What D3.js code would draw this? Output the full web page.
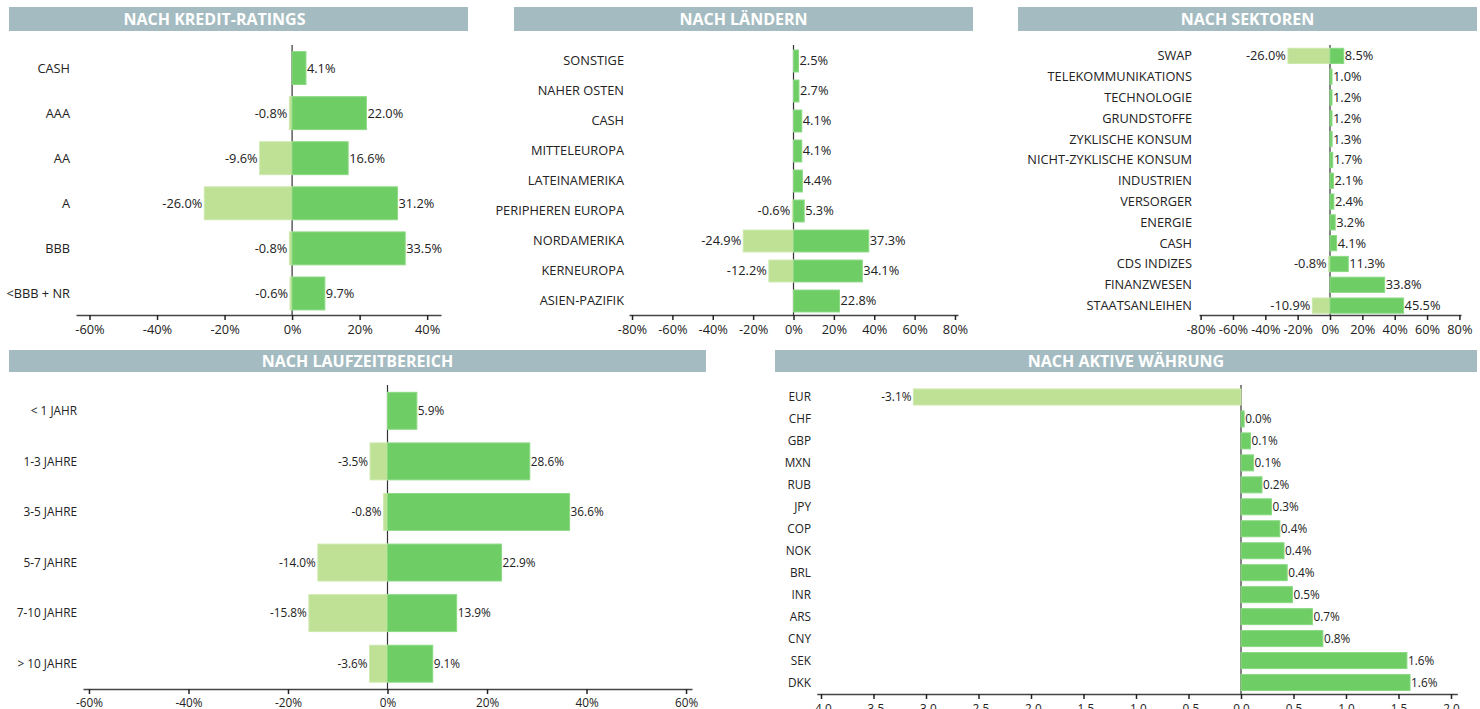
<!DOCTYPE html>
<html><head><meta charset="utf-8">
<script src="https://cdn.jsdelivr.net/npm/d3@7"></script>
<style>
body{margin:0;background:#fff;}
svg{display:block;font-family:"Open Sans",sans-serif;}
</style></head>
<body><svg id="c" width="1480" height="709"></svg>
<script>
// ---------- DATA ----------
const kreditCats = ["CASH","AAA","AA","A","BBB","<BBB + NR"];
const kreditNeg  = [null,-0.8,-9.6,-26.0,-0.8,-0.6];
const kreditPos  = [4.1,22.0,16.6,31.2,33.5,9.7];
const kreditTicks = [-60,-40,-20,0,20,40];

const laenderCats = ["SONSTIGE","NAHER OSTEN","CASH","MITTELEUROPA","LATEINAMERIKA","PERIPHEREN EUROPA","NORDAMERIKA","KERNEUROPA","ASIEN-PAZIFIK"];
const laenderNeg  = [null,null,null,null,null,-0.6,-24.9,-12.2,null];
const laenderPos  = [2.5,2.7,4.1,4.1,4.4,5.3,37.3,34.1,22.8];
const laenderTicks = [-80,-60,-40,-20,0,20,40,60,80];

const sektorCats = ["SWAP","TELEKOMMUNIKATIONS","TECHNOLOGIE","GRUNDSTOFFE","ZYKLISCHE KONSUM","NICHT-ZYKLISCHE KONSUM","INDUSTRIEN","VERSORGER","ENERGIE","CASH","CDS INDIZES","FINANZWESEN","STAATSANLEIHEN"];
const sektorNeg  = [-26.0,null,null,null,null,null,null,null,null,null,-0.8,null,-10.9];
const sektorPos  = [8.5,1.0,1.2,1.2,1.3,1.7,2.1,2.4,3.2,4.1,11.3,33.8,45.5];
const sektorTicks = [-80,-60,-40,-20,0,20,40,60,80];

const laufzeitCats = ["< 1 JAHR","1-3 JAHRE","3-5 JAHRE","5-7 JAHRE","7-10 JAHRE","> 10 JAHRE"];
const laufzeitNeg  = [null,-3.5,-0.8,-14.0,-15.8,-3.6];
const laufzeitPos  = [5.9,28.6,36.6,22.9,13.9,9.1];
const laufzeitTicks = [-60,-40,-20,0,20,40,60];

const waehrungCats = ["EUR","CHF","GBP","MXN","RUB","JPY","COP","NOK","BRL","INR","ARS","CNY","SEK","DKK"];
const waehrungVals = [-3.12,0.03,0.09,0.12,0.2,0.29,0.37,0.41,0.44,0.49,0.68,0.78,1.58,1.61];
const waehrungTicks = [-4.0,-3.5,-3.0,-2.5,-2.0,-1.5,-1.0,-0.5,0.0,0.5,1.0,1.5,2.0];

const titles = ["NACH KREDIT-RATINGS","NACH LÄNDERN","NACH SEKTOREN","NACH LAUFZEITBEREICH","NACH AKTIVE WÄHRUNG"];

// ---------- STYLE ----------
const POS = "#6ecd65", POS_S = "#8bd983";
const NEG = "#bee196", NEG_S = "#cde9ad";
const TITLE_BG = "#a4bcc1";
const pct = d => d + "%";

const svg = d3.select("#c");

const panels = [
  {title:titles[0], tb:[9,7,459,24], tcx:214.5, tfs:16, cats:kreditCats, neg:kreditNeg, pos:kreditPos, ticks:kreditTicks, tf:pct,
   dom:[-64,44.1], xr:[76,441], yr:[45.5,316], axisY:315, zeroTop:45, labX:70, fs:12.8, tp:5, vf:d=>d.toFixed(1)+"%"},
  {title:titles[1], tb:[514,7,459,24], tfs:16, cats:laenderCats, neg:laenderNeg, pos:laenderPos, ticks:laenderTicks, tf:pct,
   dom:[-81.5,81.5], xr:[629,958], yr:[46,316], axisY:315, zeroTop:45, labX:624, fs:12.8, tp:5, vf:d=>d.toFixed(1)+"%"},
  {title:titles[2], tb:[1018,7,459,24], tfs:16, cats:sektorCats, neg:sektorNeg, pos:sektorPos, ticks:sektorTicks, tf:pct,
   dom:[-81,81], xr:[1199,1461], yr:[45.5,316], axisY:315, zeroTop:45, labX:1192, fs:12.8, tp:5, vf:d=>d.toFixed(1)+"%"},
  {title:titles[3], tb:[9,350,697,22], tfs:16, cats:laufzeitCats, neg:laufzeitNeg, pos:laufzeitPos, ticks:laufzeitTicks, tf:pct,
   dom:[-61.2,61.2], xr:[83,692], yr:[385.5,689], axisY:689, zeroTop:385, labX:77, fs:11.8, tp:5, vf:d=>d.toFixed(1)+"%"},
  {title:titles[4], tb:[775,350,702,22], tfs:16, cats:waehrungCats,
   neg:waehrungVals.map(v=>v<0?v:null), pos:waehrungVals.map(v=>v>=0?v:null), ticks:waehrungTicks, tf:d=>d.toFixed(1),
   dom:[-4.04,2.06], xr:[816.8,1457.3], yr:[386,693.5], axisY:694, zeroTop:385, labX:811, fs:11.8, tp:5.5, vf:d=>d.toFixed(1)+"%"}
];

panels.forEach(p => {
  const g = svg.append("g");
  // title bar
  g.append("rect").attr("x",p.tb[0]).attr("y",p.tb[1]).attr("width",p.tb[2]).attr("height",p.tb[3]).attr("fill",TITLE_BG);
  g.append("text").attr("x",p.tcx != null ? p.tcx : p.tb[0]+p.tb[2]/2).attr("y",p.tb[1]+p.tb[3]/2).attr("dy","0.36em")
    .attr("text-anchor","middle").attr("fill","#fff").attr("font-weight","bold").attr("font-size",p.tfs).text(p.title);

  const x = d3.scaleLinear().domain(p.dom).range(p.xr);
  const y = d3.scaleBand().domain(p.cats).range(p.yr).paddingInner(0.27).paddingOuter(0.135);

  // zero line
  g.append("line").attr("x1",x(0)).attr("x2",x(0)).attr("y1",p.zeroTop).attr("y2",p.axisY)
    .attr("stroke","#333").attr("stroke-width",1.2);

  const rows = p.cats.map((c,i)=>({c, n:p.neg[i], v:p.pos[i]}));

  // negative bars
  g.selectAll(".nb").data(rows.filter(r=>r.n!=null)).join("rect")
    .attr("x",r=>x(r.n)).attr("y",r=>y(r.c)).attr("width",r=>x(0)-x(r.n)).attr("height",y.bandwidth())
    .attr("fill",NEG).attr("stroke",NEG_S).attr("stroke-width",1);
  // positive bars
  g.selectAll(".pb").data(rows.filter(r=>r.v!=null)).join("rect")
    .attr("x",x(0)).attr("y",r=>y(r.c)).attr("width",r=>Math.max(2,x(r.v)-x(0))).attr("height",y.bandwidth())
    .attr("fill",POS).attr("stroke",POS_S).attr("stroke-width",1);

  // value labels
  g.selectAll(".nl").data(rows.filter(r=>r.n!=null)).join("text")
    .attr("x",r=>x(r.n)-2).attr("y",r=>y(r.c)+y.bandwidth()/2).attr("dy","0.35em")
    .attr("text-anchor","end").attr("font-size",p.fs).attr("fill","#222").text(r=>p.vf(r.n));
  g.selectAll(".pl").data(rows.filter(r=>r.v!=null)).join("text")
    .attr("x",r=>Math.max(x(r.v),x(0)+2)+1).attr("y",r=>y(r.c)+y.bandwidth()/2).attr("dy","0.35em")
    .attr("text-anchor","start").attr("font-size",p.fs).attr("fill","#222").text(r=>p.vf(r.v));

  // category labels
  g.selectAll(".cl").data(p.cats).join("text")
    .attr("x",p.labX).attr("y",c=>y(c)+y.bandwidth()/2).attr("dy","0.35em")
    .attr("text-anchor","end").attr("font-size",p.fs).attr("fill","#222").text(c=>c);

  // x axis
  const ax = g.append("g").attr("transform",`translate(0,${p.axisY})`)
    .call(d3.axisBottom(x).tickValues(p.ticks).tickFormat(p.tf).tickSize(5).tickSizeOuter(0).tickPadding(p.tp));
  ax.select(".domain").attr("stroke","#444").attr("stroke-width",1.5);
  ax.selectAll(".tick line").attr("stroke","#222").attr("stroke-width",1.5);
  ax.selectAll(".tick text").attr("font-size",p.fs).attr("fill","#222").attr("font-family","Open Sans, sans-serif");
});
</script></body></html>
